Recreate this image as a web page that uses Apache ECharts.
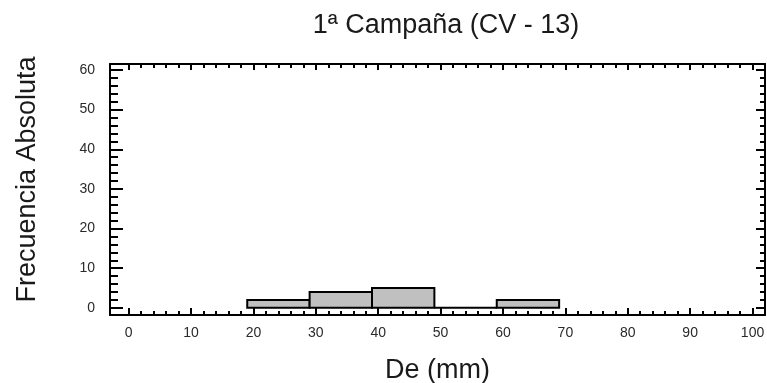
<!DOCTYPE html>
<html lang="es">
<head>
    <meta charset="UTF-8">
    <title>1ª Campaña (CV - 13)</title>
    <style>
        html, body { margin: 0; padding: 0; background: #fff; }
        #chart { width: 767px; height: 383px; }
    </style>
</head>
<body>
<div id="chart"></div>
<script src="https://cdn.jsdelivr.net/npm/echarts@6/dist/echarts.min.js"></script>
<script>
    // histograma: limites de cada clase y frecuencia
    var binStart = [19, 29, 39, 49, 59];
    var binEnd = [29, 39, 49, 59, 69];
    var counts = [2, 4, 5, 0, 2];

    var xLabels = [0, 10, 20, 30, 40, 50, 60, 70, 80, 90, 100];
    var yLabels = [0, 10, 20, 30, 40, 50, 60];

    // marcas menores cada 2 unidades
    var xMinor = [];
    for (var i = 0; i <= 100; i += 2) xMinor.push(i);
    var yMinor = [];
    for (var j = 0; j <= 60; j += 2) yMinor.push(j);

    var histData = binStart.map(function (s, k) {
        return [s, binEnd[k], counts[k]];
    });

    var mChart = echarts.init(document.getElementById('chart'));

    var font = 'Liberation Sans, Arial, sans-serif';
    var line = { color: '#000', width: 2 };

    // eje "vacio" que solo sirve para dibujar marcas
    function axisBase(extra) {
        return Object.assign({
            type: 'value',
            splitLine: { show: false },
            axisLine: { show: false, onZero: false },
            axisLabel: { show: false },
            axisTick: { show: false }
        }, extra);
    }

    var option = {
        animation: false,
        title: {
            text: '1ª Campaña (CV - 13)',
            left: 441,
            textAlign: 'center',
            top: 7,
            textStyle: { fontFamily: font, fontSize: 27, fontWeight: 'normal', color: '#1a1a1a' }
        },
        grid: { left: 110, right: 2, top: 64, bottom: 68, outerBoundsMode: 'none' },
        xAxis: [
            axisBase({
                position: 'bottom', min: -3, max: 102,
                axisLine: { show: true, onZero: false, lineStyle: line },
                axisTick: { show: true, inside: true, length: 7, customValues: xLabels, lineStyle: line },
                axisLabel: { show: true, customValues: xLabels, margin: 11, fontFamily: font, fontSize: 14, color: '#2a2a2a' },
                name: 'De (mm)', nameLocation: 'middle', nameGap: 42,
                nameTextStyle: { fontFamily: font, fontSize: 27, color: '#1a1a1a' }
            }),
            axisBase({
                position: 'bottom', min: -3, max: 102,
                axisTick: { show: true, inside: true, length: 4, customValues: xMinor, lineStyle: line }
            }),
            axisBase({
                position: 'top', min: -3, max: 102,
                axisLine: { show: true, onZero: false, lineStyle: line },
                axisTick: { show: true, inside: true, length: 4, customValues: xMinor, lineStyle: line }
            }),
            axisBase({
                position: 'top', min: -3, max: 102,
                axisTick: { show: true, inside: true, length: 6, customValues: xLabels, lineStyle: line }
            })
        ],
        yAxis: [
            axisBase({
                position: 'left', min: -1.8, max: 61.5,
                axisLine: { show: true, onZero: false, lineStyle: line },
                axisTick: { show: true, inside: true, length: 13, customValues: yLabels, lineStyle: line },
                axisLabel: { show: true, customValues: yLabels, margin: 15, fontFamily: font, fontSize: 14, color: '#2a2a2a' },
                name: 'Frecuencia Absoluta', nameLocation: 'middle', nameGap: 69,
                nameTextStyle: { fontFamily: font, fontSize: 27, color: '#1a1a1a', padding: [0, 0, 0, 20] }
            }),
            axisBase({
                position: 'left', min: -1.8, max: 61.5,
                axisTick: { show: true, inside: true, length: 8, customValues: yMinor, lineStyle: line }
            }),
            axisBase({
                position: 'right', min: -1.8, max: 61.5,
                axisLine: { show: true, onZero: false, lineStyle: line },
                axisTick: { show: true, inside: true, length: 5, customValues: yMinor, lineStyle: line }
            }),
            axisBase({
                position: 'right', min: -1.8, max: 61.5,
                axisTick: { show: true, inside: true, length: 9, customValues: yLabels, lineStyle: line }
            })
        ],
        series: [{
            type: 'custom',
            xAxisIndex: 0,
            yAxisIndex: 0,
            data: histData,
            renderItem: function (params, api) {
                var p0 = api.coord([api.value(0), api.value(2)]);
                var p1 = api.coord([api.value(1), 0]);
                return {
                    type: 'rect',
                    shape: { x: p0[0], y: p0[1], width: p1[0] - p0[0], height: p1[1] - p0[1] },
                    style: { fill: '#c0c0c0', stroke: '#000', lineWidth: 2 }
                };
            }
        }]
    };

    mChart.setOption(option);
</script>
</body>
</html>
